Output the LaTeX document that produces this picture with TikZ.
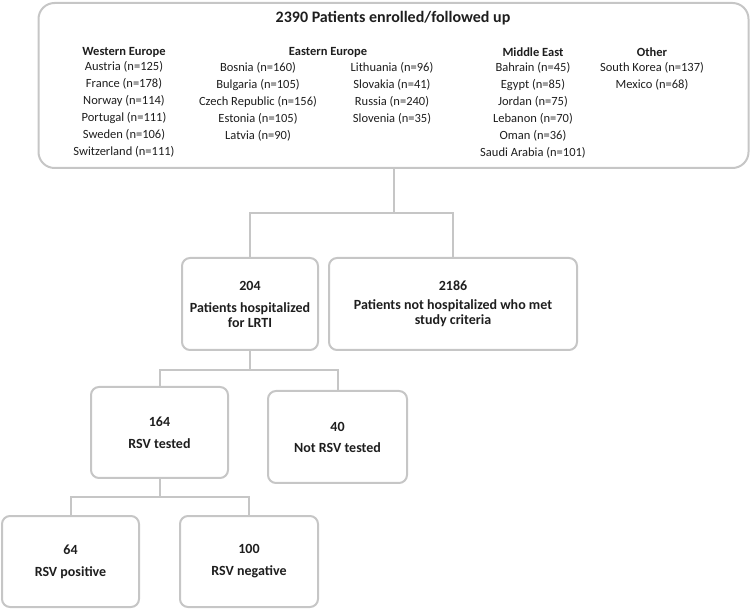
\documentclass[tikz,border=0pt]{standalone}
\usepackage{fontspec}
\setmainfont{Carlito}
\definecolor{boxgray}{RGB}{198,198,198}
\definecolor{txt}{RGB}{30,30,30}
\begin{document}
\begin{tikzpicture}[x=1pt,y=1pt,
  box/.style={draw=boxgray, line width=2pt, rounded corners=8pt, inner sep=0pt, align=center,
    text=txt, font=\fontsize{14}{15}\selectfont\bfseries},
  conn/.style={draw=boxgray, line width=2pt},
  col/.style={anchor=north, inner sep=0pt, align=center, text=txt, font=\fontsize{12.5}{17}\selectfont}]
\useasboundingbox (0,0) rectangle (750,-609);

% top box
\node[box, rounded corners=16pt, minimum width=710pt, minimum height=165pt] (top) at (393.5,-85.5) {};
\node[anchor=base, inner sep=0pt, text=txt, font=\fontsize{16}{18}\selectfont\bfseries] (title) at (393,-23) {2390 Patients enrolled/followed up};

\node[col] (we) at (124,-47.5) {\textbf{Western Europe}\\[-2pt]Austria (n=125)\\France (n=178)\\Norway (n=114)\\Portugal (n=111)\\Sweden (n=106)\\Switzerland (n=111)};
\node[col] (eeh) at (328,-47.5) {\textbf{Eastern Europe}};
\node[col] (ee1) at (258,-62.5) {Bosnia (n=160)\\Bulgaria (n=105)\\Czech Republic (n=156)\\Estonia (n=105)\\Latvia (n=90)};
\node[col] (ee2) at (392,-62.5) {Lithuania (n=96)\\Slovakia (n=41)\\Russia (n=240)\\Slovenia (n=35)};
\node[col] (me) at (533,-47.5) {\textbf{Middle East}\\[-2pt]Bahrain (n=45)\\Egypt (n=85)\\Jordan (n=75)\\Lebanon (n=70)\\Oman (n=36)\\Saudi Arabia (n=101)};
\node[col] (ot) at (652,-47.5) {\textbf{Other}\\[-2pt]South Korea (n=137)\\Mexico (n=68)};

% level 2
\node[box, minimum width=136pt, minimum height=92pt] (hosp) at (250,-304) {204\\[7pt]Patients hospitalized\\for LRTI};
\node[box, minimum width=248pt, minimum height=92pt] (nothosp) at (453,-304) {2186\\[4pt]Patients not hospitalized who met\\study criteria};

% level 3
\node[box, minimum width=137pt, minimum height=91pt] (tested) at (159.5,-432.5) {164\\[7pt]RSV tested};
\node[box, minimum width=139pt, minimum height=92pt] (nottested) at (337.5,-437) {40\\[6pt]Not RSV tested};

% level 4
\node[box, minimum width=137pt, minimum height=91pt] (pos) at (70.5,-561.5) {64\\[7pt]RSV positive};
\node[box, minimum width=138pt, minimum height=91pt] (neg) at (249,-561.5) {100\\[7pt]RSV negative};

% connectors
\coordinate (j1) at (top.south |- 0,-213);
\draw[conn] (top.south) -- (j1);
\draw[conn] (hosp.north) |- (j1) -| (nothosp.north);

\coordinate (j2) at (hosp.south |- 0,-370);
\draw[conn] (hosp.south) -- (j2);
\draw[conn] (tested.north) |- (j2) -| (nottested.north);

\coordinate (j3) at (tested.south |- 0,-497);
\draw[conn] (tested.south) -- (j3);
\draw[conn] (pos.north) |- (j3) -| (neg.north);
\end{tikzpicture}
\end{document}
